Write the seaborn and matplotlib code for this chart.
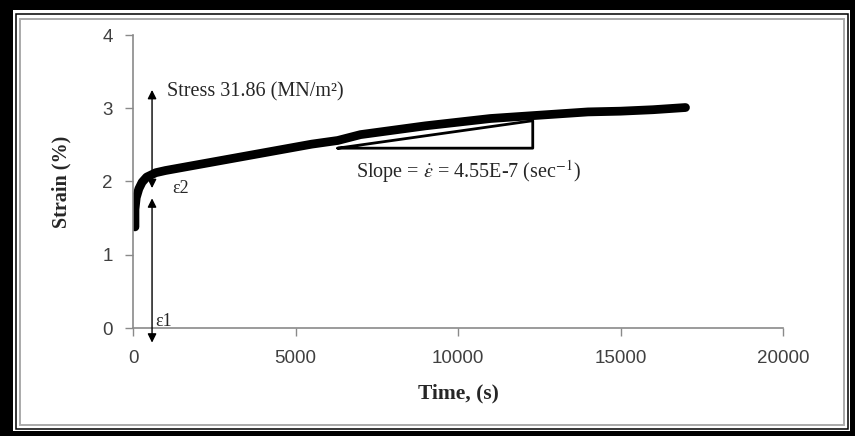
import matplotlib
matplotlib.use("Agg")
import matplotlib.pyplot as plt
from matplotlib.patches import Rectangle
import seaborn as sns
import pandas as pd

# ---- data ----
time_s = [60, 60, 100, 180, 280, 420, 700, 1000, 1500, 2500, 3500, 4500, 5500,
          6300, 7000, 8000, 9000, 10000, 11000, 12000, 13000, 14000, 15000, 16000, 17000]
strain_pct = [1.38, 1.62, 1.78, 1.90, 1.99, 2.06, 2.12, 2.15, 2.19, 2.27, 2.35, 2.43, 2.51,
              2.56, 2.64, 2.70, 2.76, 2.81, 2.86, 2.89, 2.92, 2.95, 2.96, 2.98, 3.01]
tri_t = [6300, 12300, 12300, 6300]
tri_s = [2.455, 2.455, 2.83, 2.455]
x_ticks = [0, 5000, 10000, 15000, 20000]
y_ticks = [0, 1, 2, 3, 4]
stress_label = "Stress 31.86 (MN/m²)"
slope_label = r"Slope = $\dot{\varepsilon}$ = 4.55E-7 (sec$^{-1}$)"

df = pd.DataFrame({"Time": time_s, "Strain": strain_pct})

sns.set_style("ticks")
plt.rcParams["mathtext.fontset"] = "stix"
SERIF = ["Liberation Serif", "DejaVu Serif"]
SANS = ["Liberation Sans", "DejaVu Sans"]

W, H = 855, 436
fig = plt.figure(figsize=(W / 100, H / 100), dpi=100)
fig.patch.set_facecolor("black")

def px_rect(x0, y0_top, x1, y1_top, **kw):
    # coordinates given in image pixels (y down)
    return Rectangle((x0 / 100, (H - y1_top) / 100), (x1 - x0) / 100, (y1_top - y0_top) / 100,
                     transform=fig.dpi_scale_trans, **kw)

fig.add_artist(px_rect(13, 10, 850, 431, facecolor="white", edgecolor="none", zorder=0))
fig.add_artist(px_rect(16, 14, 847.5, 428.5, facecolor="none", edgecolor="black", lw=1.1, zorder=1))
fig.add_artist(px_rect(20, 19, 844, 425, facecolor="none", edgecolor="#aaaaaa", lw=1.4, zorder=1))

ax = fig.add_axes([133 / W, (H - 328) / H, (783 - 133) / W, (328 - 35) / H])
ax.set_facecolor("white")

sns.lineplot(data=df, x="Time", y="Strain", ax=ax, color="black", lw=6.3,
             estimator=None, sort=False, solid_capstyle="round", solid_joinstyle="round")
ax.plot(tri_t, tri_s, color="black", lw=2)

ax.set_xlim(0, 20000)
ax.set_ylim(0, 4)
ax.set_xticks(x_ticks)
ax.set_yticks(y_ticks)
ax.set_xticklabels([str(v) for v in x_ticks], fontfamily=SANS)
ax.set_yticklabels([str(v) for v in y_ticks], fontfamily=SANS)
for side in ["top", "right"]:
    ax.spines[side].set_visible(False)
for side in ["left", "bottom"]:
    ax.spines[side].set_color("#8a8a8a")
    ax.spines[side].set_linewidth(1.2)
ax.tick_params(axis="both", direction="out", length=5.5, width=1.0, color="#8a8a8a",
               labelcolor="#404040", labelsize=13.5)
ax.tick_params(axis="x", pad=10)
ax.tick_params(axis="y", pad=9)

ax.set_xlabel("Time, (s)", fontfamily=SERIF, fontweight="bold", fontsize=15.5)
ax.set_ylabel("Strain (%)", fontfamily=SERIF, fontweight="bold", fontsize=14.5)
ax.xaxis.set_label_coords(0.5, -0.19)
ax.yaxis.set_label_coords(-0.095, 0.5)

# arrows
arr = dict(arrowstyle="<|-|>", color="black", lw=1.0, mutation_scale=13, shrinkA=0, shrinkB=0)
ax.annotate("", xy=(586, 3.25), xytext=(586, 1.91), arrowprops=arr, annotation_clip=False)
ax.annotate("", xy=(586, 1.77), xytext=(586, -0.2), arrowprops=arr, annotation_clip=False)

ax.text(1050, 3.22, stress_label, fontfamily=SERIF, fontsize=14.5, ha="left", va="center")
ax.text(1200, 1.91, "ε2", fontfamily=SERIF, fontsize=13, ha="left", va="center")
ax.text(680, 0.09, "ε1", fontfamily=SERIF, fontsize=13, ha="left", va="center")
ax.text(6850, 2.14, slope_label, fontfamily=SERIF, fontsize=14.5, ha="left", va="center")

fig.savefig("out.png", dpi=100, facecolor=fig.get_facecolor())
